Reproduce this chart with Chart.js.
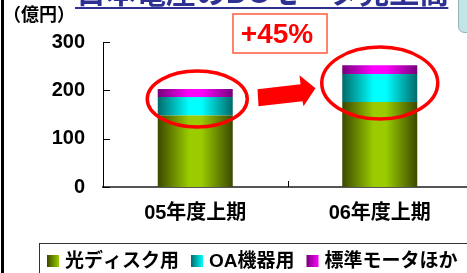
<!DOCTYPE html>
<html>
<head>
<meta charset="utf-8">
<script src="https://cdn.jsdelivr.net/npm/chart.js@4"></script>
<style>
  html, body { margin: 0; padding: 0; background: #fff; overflow: hidden; }
  #wrap { position: relative; width: 472px; height: 273px; }
  #edge { position: absolute; left: 1px; top: 0; width: 3px; height: 273px; background: #000; }
</style>
</head>
<body>
<div id="wrap"><canvas id="chart"></canvas><div id="edge"></div></div>
<script>
// data (億円)
const categories = ['05年度上期', '06年度上期'];
const seriesNames = ['光ディスク用', 'OA機器用', '標準モータほか'];
const opticalDisk = [148, 176];
const oaEquipment = [38, 58];
const standardMotor = [17, 18];
const yTicks = [0, 100, 200, 300];
const unitLabel = '（億円）';
const titleText = '日本電産のDCモータ売上高';
const growthLabel = '+45%';

const FONT = '"Liberation Sans", "Noto Sans CJK JP", sans-serif';
const BAR_PCT = 0.4065;

// dark edge / bright middle, gives the cylinder look
const shades = [
    ['#3c4800', '#9acc00'],
    ['#006a6a', '#00ffff'],
    ['#76007a', '#ff00ff']
];

function cylinder(ctx, left, right, s) {
    var g = ctx.createLinearGradient(left, 0, right, 0);
    g.addColorStop(0, s[0]);
    g.addColorStop(0.42, s[1]);
    g.addColorStop(0.58, s[1]);
    g.addColorStop(1, s[0]);
    return g;
}

function barFill(s) {
    return function (c) {
        var x = c.chart.scales.x;
        if (!x || c.dataIndex === undefined || !x.width) return s[1];
        var cx = x.getPixelForValue(c.dataIndex);
        var w = x.width / categories.length * BAR_PCT;
        return cylinder(c.chart.ctx, cx - w / 2, cx + w / 2, s);
    };
}

const decor = {
    id: 'decor',
    afterDraw(chart) {
        const ctx = chart.ctx;
        const x = chart.scales.x, y = chart.scales.y;
        ctx.save();

        // inward ticks on the value axis
        ctx.strokeStyle = '#000';
        ctx.lineWidth = 1;
        yTicks.forEach(v => {
            var py = Math.round(y.getPixelForValue(v)) + 0.5;
            ctx.beginPath();
            ctx.moveTo(x.left, py);
            ctx.lineTo(x.left + 7, py);
            ctx.stroke();
        });
        var mid = (x.getPixelForValue(0) + x.getPixelForValue(1)) / 2;
        ctx.beginPath();
        ctx.moveTo(Math.round(mid) + 0.5, y.bottom);
        ctx.lineTo(Math.round(mid) + 0.5, y.bottom - 6);
        ctx.stroke();

        // red ellipses round the bar tops
        ctx.strokeStyle = '#ff0000';
        ctx.lineWidth = 3.5;
        [[0, 2, 182, 50, 28], [1, 0, 215, 58, 36]].forEach(e => {
            ctx.beginPath();
            ctx.ellipse(x.getPixelForValue(e[0]) + e[1], y.getPixelForValue(e[2]), e[3], e[4], 0, 0, Math.PI * 2);
            ctx.stroke();
        });

        // arrow between the bars
        var by = y.getPixelForValue(198);
        var pts = [[-30, -2], [13, -7], [12, -16], [28, -3], [16, 15], [15, 10], [-29, 15]];
        ctx.fillStyle = '#ff0000';
        ctx.beginPath();
        pts.forEach((p, i) => {
            if (i === 0) ctx.moveTo(mid + p[0], by + p[1]);
            else ctx.lineTo(mid + p[0], by + p[1]);
        });
        ctx.closePath();
        ctx.fill();

        // +45% box
        ctx.fillStyle = '#fff';
        ctx.strokeStyle = '#ff5a3c';
        ctx.lineWidth = 1.5;
        ctx.fillRect(233, 14, 94, 39);
        ctx.strokeRect(233, 14, 94, 39);
        ctx.fillStyle = '#ff0000';
        ctx.font = 'bold 28px ' + FONT;
        ctx.textAlign = 'center';
        ctx.textBaseline = 'middle';
        ctx.fillText(growthLabel, 277, 35);

        // title, clipped at the top
        ctx.fillStyle = '#2e3192';
        ctx.font = 'bold 30px ' + FONT;
        ctx.textAlign = 'left';
        ctx.textBaseline = 'alphabetic';
        ctx.fillText(titleText, 76, 3);
        var tw = ctx.measureText(titleText).width;
        ctx.fillRect(75, 7, Math.max(tw, 372), 2);

        // unit label
        ctx.fillStyle = '#000';
        ctx.font = 'bold 18px ' + FONT;
        ctx.textBaseline = 'middle';
        ctx.fillText(unitLabel, 3, 16);

        // teal box at top right
        ctx.fillStyle = '#c3e5e8';
        ctx.strokeStyle = '#8fb5b9';
        ctx.lineWidth = 1;
        ctx.beginPath();
        ctx.moveTo(458.5, -5);
        ctx.lineTo(458.5, 26);
        ctx.quadraticCurveTo(458.5, 32.5, 465, 32.5);
        ctx.lineTo(480, 32.5);
        ctx.lineTo(480, -5);
        ctx.closePath();
        ctx.fill();
        ctx.stroke();

        // legend box
        ctx.strokeStyle = '#333';
        ctx.lineWidth = 1;
        ctx.strokeRect(39.5, 243.5, 460, 40);
        ctx.font = 'bold 19px ' + FONT;
        ctx.textBaseline = 'middle';
        var lx = 47;
        chart.data.datasets.forEach((ds, i) => {
            var g = ctx.createLinearGradient(lx, 0, lx + 12, 0);
            g.addColorStop(0, shades[i][0]);
            g.addColorStop(1, shades[i][1]);
            ctx.fillStyle = g;
            ctx.fillRect(lx, 255, 12, 12);
            ctx.fillStyle = '#000';
            ctx.fillText(ds.label, lx + 18, 262);
            lx += 18 + ctx.measureText(ds.label).width + 12;
        });

        ctx.restore();
    }
};

new Chart(document.getElementById('chart'), {
    type: 'bar',
    data: {
        labels: categories,
        datasets: [
            { label: seriesNames[0], data: opticalDisk, backgroundColor: barFill(shades[0]) },
            { label: seriesNames[1], data: oaEquipment, backgroundColor: barFill(shades[1]) },
            { label: seriesNames[2], data: standardMotor, backgroundColor: barFill(shades[2]) }
        ]
    },
    options: {
        responsive: true,
        maintainAspectRatio: false,
        animation: false,
        events: [],
        layout: { padding: { top: 42, right: 0, left: 0, bottom: 0 } },
        datasets: { bar: { barPercentage: BAR_PCT, categoryPercentage: 1 } },
        plugins: { legend: { display: false }, tooltip: { enabled: false } },
        scales: {
            x: {
                stacked: true,
                grid: { display: false, drawTicks: false },
                border: { display: true, color: '#555', width: 2 },
                ticks: { color: '#000', padding: 14, font: { family: FONT, size: 20, weight: 'bold' } },
                afterFit: s => { s.height = 86; }
            },
            y: {
                stacked: true,
                min: 0, max: 300,
                afterBuildTicks: s => { s.ticks = yTicks.map(v => ({ value: v })); },
                grid: { display: false, drawTicks: false },
                border: { display: true, color: '#000', width: 1 },
                ticks: { color: '#000', padding: 18, font: { family: FONT, size: 20, weight: 'bold' } },
                afterFit: s => { s.width = 103; }
            }
        }
    },
    plugins: [decor]
});
</script>
</body>
</html>
